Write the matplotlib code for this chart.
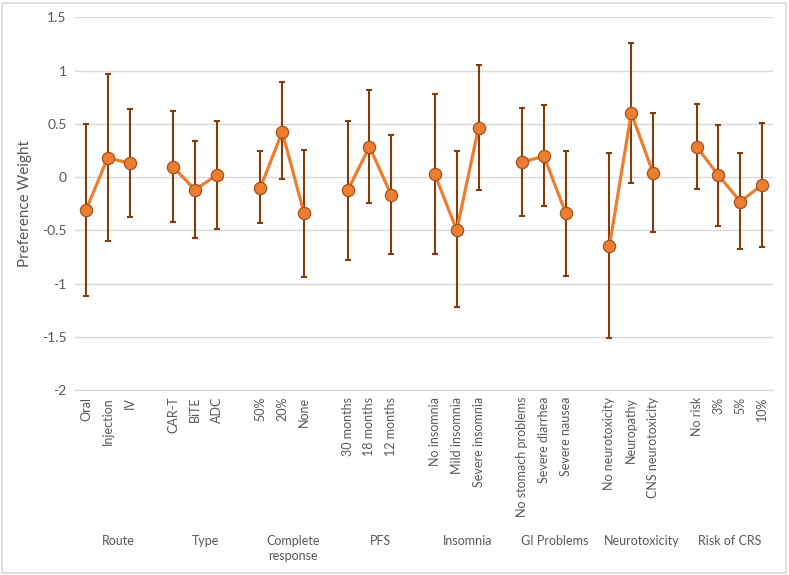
import numpy as np
import matplotlib
matplotlib.use("Agg")
import matplotlib.pyplot as plt
from matplotlib.patches import Rectangle
import matplotlib.transforms as mtransforms

plt.rcParams['font.family'] = ['Lato', 'DejaVu Sans']

groups = ["Route", "Type", "Complete\nresponse", "PFS", "Insomnia",
          "GI Problems", "Neurotoxicity", "Risk of CRS"]
levels = [
    ["Oral", "Injection", "IV"],
    ["CAR-T", "BiTE", "ADC"],
    ["50%", "20%", "None"],
    ["30 months", "18 months", "12 months"],
    ["No insomnia", "Mild insomnia", "Severe insomnia"],
    ["No stomach problems", "Severe diarrhea", "Severe nausea"],
    ["No neurotoxicity", "Neuropathy", "CNS neurotoxicity"],
    ["No risk", "3%", "5%", "10%"],
]
weights = [
    [-0.31, 0.18, 0.13],
    [0.095, -0.12, 0.02],
    [-0.10, 0.425, -0.34],
    [-0.125, 0.285, -0.17],
    [0.025, -0.50, 0.465],
    [0.14, 0.195, -0.34],
    [-0.65, 0.60, 0.04],
    [0.285, 0.015, -0.23, -0.075],
]
upper = [
    [0.495, 0.965, 0.64],
    [0.62, 0.335, 0.525],
    [0.245, 0.89, 0.25],
    [0.525, 0.815, 0.39],
    [0.78, 0.24, 1.055],
    [0.645, 0.68, 0.24],
    [0.225, 1.255, 0.60],
    [0.685, 0.485, 0.23, 0.505],
]
lower = [
    [-1.12, -0.60, -0.38],
    [-0.42, -0.575, -0.49],
    [-0.435, -0.02, -0.94],
    [-0.775, -0.245, -0.725],
    [-0.725, -1.225, -0.12],
    [-0.37, -0.275, -0.925],
    [-1.515, -0.055, -0.52],
    [-0.115, -0.46, -0.68, -0.655],
]

# lay categories out like Excel: one empty slot after each group
xs, ys, lo, hi, labels, centers = [], [], [], [], [], []
pos = 0
for g in range(len(groups)):
    start = pos
    for k in range(len(levels[g])):
        xs.append(pos); ys.append(weights[g][k])
        lo.append(lower[g][k]); hi.append(upper[g][k])
        labels.append(levels[g][k])
        pos += 1
    if g < len(groups) - 1:
        xs.append(pos); ys.append(np.nan); lo.append(np.nan); hi.append(np.nan)
        labels.append(None)
        pos += 1
    centers.append((start + pos - 1) / 2.0)
xs = np.array(xs, dtype=float)
ys = np.array(ys)
lo = np.array(lo)
hi = np.array(hi)
nslots = pos

fig = plt.figure(figsize=(7.89, 5.75), dpi=100)
W, H = 789.0, 575.0
ax = fig.add_axes([75 / W, 1 - 390 / H, (773 - 75) / W, (390 - 17.3) / H])

grey = "#595959"
ax.errorbar(xs, ys, yerr=[ys - lo, hi - ys], fmt='none', ecolor="#843C0C",
            elinewidth=1.5, capsize=2.3, capthick=1.5, zorder=2)
ax.plot(xs, ys, color="#ED7D31", lw=2.3, marker='o', markersize=8.8,
        markerfacecolor="#ED7D31", markeredgecolor="#A5511A",
        markeredgewidth=0.9, zorder=3)

ax.set_xlim(-0.5, nslots - 0.5)
ax.set_ylim(-2, 1.5)
ax.set_yticks(np.arange(-2, 1.51, 0.5))
ax.set_yticklabels(["-2", "-1.5", "-1", "-0.5", "0", "0.5", "1", "1.5"])
ax.yaxis.grid(True, color="#D9D9D9", lw=1)
ax.set_axisbelow(True)
for s in ["top", "right", "left"]:
    ax.spines[s].set_visible(False)
ax.spines["bottom"].set_color("#D9D9D9")
ax.tick_params(axis='both', length=0, colors=grey, labelsize=9)
ax.tick_params(axis='y', pad=6, labelsize=10)

tick_pos = [x for x, l in zip(xs, labels) if l is not None]
tick_lab = [l for l in labels if l is not None]
ax.set_xticks(tick_pos)
ax.set_xticklabels(tick_lab, rotation=90, va='top', ha='center')
ax.tick_params(axis='x', pad=5)

ax.set_ylabel("Preference Weight", color=grey, fontsize=11, labelpad=7)

trans = mtransforms.blended_transform_factory(ax.transData, fig.transFigure)
for c, g in zip(centers, groups):
    ax.text(c, 1 - 535 / H, g, transform=trans, ha='center', va='top',
            color=grey, fontsize=9, linespacing=1.25)

fig.patches.append(Rectangle((2 / W, 2 / H), 784 / W, 570 / H, fill=False,
                             edgecolor="#D9D9D9", lw=1.2,
                             transform=fig.transFigure))

fig.savefig("out.png", dpi=100)
